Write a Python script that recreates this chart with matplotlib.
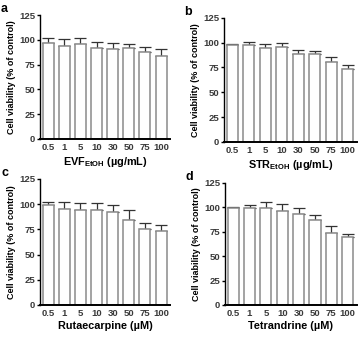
import numpy as np
import matplotlib.pyplot as plt

plt.rcParams['font.family'] = ['Liberation Sans', 'DejaVu Sans']
plt.rcParams['mathtext.fontset'] = 'custom'
plt.rcParams['mathtext.rm'] = 'Liberation Sans:bold'
plt.rcParams['mathtext.bf'] = 'Liberation Sans:bold'

# concentrations (same ticks for every panel)
doses = ["0.5", "1", "5", "10", "30", "50", "75", "100"]

# mean viability and SD (% of control)
evf_mean = [97, 94, 96, 92, 91, 92, 88, 84]
evf_sd = [5, 7, 6, 6, 5.5, 4, 4.5, 7]
str_mean = [98, 97.5, 94.5, 96, 89, 88.5, 81, 73]
str_sd = [1, 3.3, 4.3, 4, 4, 2.7, 5, 4.5]
rut_mean = [99.5, 95.5, 94.5, 94, 92, 84, 75, 73]
rut_sd = [3, 7, 6.5, 7, 7, 10, 6.5, 6]
tet_mean = [99, 99, 99, 96.5, 93, 87.5, 74, 69.5]
tet_sd = [1, 3.4, 7, 7, 6, 4.5, 6.5, 3.7]

panels = [
    ("a", evf_mean, evf_sd, "EVF$_{\\mathrm{EtOH}}$ (\u00b5g/mL)", [0.110, 0.588, 0.357, 0.367]),
    ("b", str_mean, str_sd, "STR$_{\\mathrm{EtOH}}$ (\u00b5g/mL)", [0.615, 0.579, 0.365, 0.368]),
    ("c", rut_mean, rut_sd, "Rutaecarpine (\u00b5M)", [0.110, 0.095, 0.357, 0.374]),
    ("d", tet_mean, tet_sd, "Tetrandrine (\u00b5M)", [0.618, 0.095, 0.362, 0.362]),
]

fig = plt.figure(figsize=(3.64, 3.37), dpi=100)

for letter, mean, sd, xlabel, rect in panels:
    ax = fig.add_axes(rect)
    x = np.arange(len(doses))
    ax.bar(x, mean, width=0.68, color="white", edgecolor="#8a8a8a", linewidth=1.1, zorder=2)
    ax.errorbar(x, mean, yerr=[np.zeros(len(sd)), sd], fmt="none", ecolor="#333333",
                elinewidth=0.9, capsize=4, capthick=0.9, zorder=1)
    ax.set_ylim(0, 125)
    ax.set_xlim(-0.5, len(doses) - 0.45)
    ax.set_yticks([0, 25, 50, 75, 100, 125])
    ax.set_xticks(x)
    ax.set_xticklabels(doses)
    ax.tick_params(axis="x", length=0, labelsize=6.8, pad=3, labelcolor="#3a3a3a")
    ax.tick_params(axis="y", length=2.5, width=1, labelsize=6.8, pad=1, direction="out",
                   labelcolor="#3a3a3a")
    for lbl in ax.get_xticklabels() + ax.get_yticklabels():
        lbl.set_fontweight("bold")
    ax.spines["top"].set_visible(False)
    ax.spines["right"].set_visible(False)
    ax.spines["left"].set_linewidth(1.0)
    ax.spines["bottom"].set_linewidth(1.4)
    ax.set_ylabel("Cell viability (% of control)", fontsize=6.5, fontweight="bold", labelpad=2)
    ax.set_xlabel(xlabel, fontsize=7.8, fontweight="bold", labelpad=2)
    ax.text(-0.3, 1.0, letter, transform=ax.transAxes, fontsize=9, fontweight="bold",
            va="bottom", ha="left")

fig.savefig("out.png", dpi=100)
